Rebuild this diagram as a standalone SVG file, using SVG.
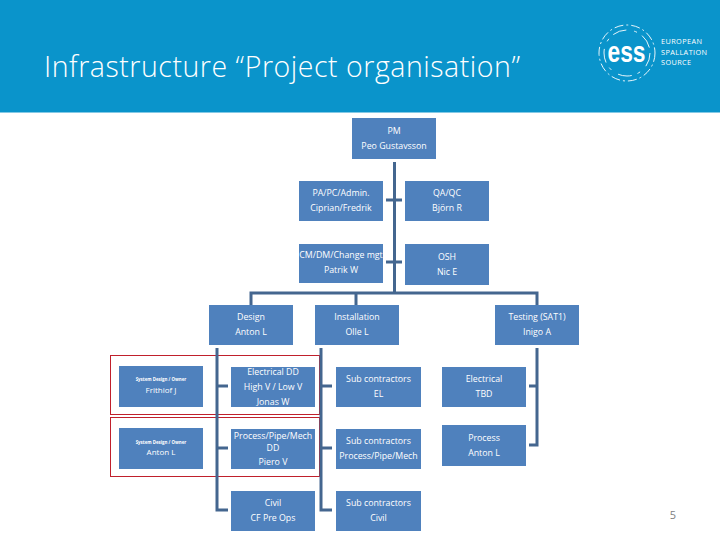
<svg xmlns="http://www.w3.org/2000/svg" width="720" height="540" viewBox="0 0 720 540">
<style>
.n{fill:#4f81bd}
.t{font:8.8px "Open Sans","DejaVu Sans",sans-serif;fill:#fff;text-anchor:middle}
.s{font:bold 4.4px "Open Sans",sans-serif;fill:#fff;text-anchor:middle}
.c{stroke:#44668f;stroke-width:3;fill:none}
.r{fill:none;stroke:#c0202c;stroke-width:1}
.l{font:7.3px "Open Sans",sans-serif;fill:#fff;letter-spacing:.4px}
.d{fill:none;stroke:#fff;stroke-width:.9}
</style>
<rect id="header" width="720" height="112.500" fill="#0a94cb"/>
<text id="title" x="44" y="77" font-family="Open Sans, sans-serif" font-weight="300" font-size="28.500" textLength="476" fill="#fff">Infrastructure “Project organisation”</text>
<g id="logo">
<circle class="d" cx="627" cy="53" r="28" stroke-dasharray="9 3 2 3"/>
<circle class="d" cx="627" cy="53" r="23" stroke-dasharray="14 8 3 6"/>
<text x="626.500" y="62" font-family="Liberation Sans, sans-serif" font-weight="bold" font-size="30" fill="#fff" text-anchor="middle" textLength="38" lengthAdjust="spacingAndGlyphs">ess</text>
<text class="l" x="661" y="44">EUROPEAN</text>
<text class="l" x="661" y="55">SPALLATION</text>
<text class="l" x="661" y="65">SOURCE</text>
</g>
<g id="highlights"><rect class="r" x="110.500" y="355.500" width="209" height="59"/><rect class="r" x="110.500" y="417.500" width="209" height="59"/></g>
<g id="connectors">
<path class="c" d="M394.500 162V292M386 200H402M386 262H402M251 310V293H537V310"/>
<path class="c" d="M356 292V305"/>
<path class="c" d="M217 348V510H228M217 386H228M217 448H228"/>
<path class="c" d="M321 348V510H332M321 386H332M321 448H332"/>
<path class="c" d="M537 348V445H529M537 386H529"/>
</g>
<g id="pm"><rect class="n" x="352" y="118" width="84" height="41"/><text class="t" x="394" y="134">PM</text><text class="t" x="394" y="149">Peo Gustavsson</text></g>
<g id="pa"><rect class="n" x="299" y="181" width="84" height="40"/><text class="t" x="341" y="196">PA/PC/Admin.</text><text class="t" x="341" y="211">Ciprian/Fredrik</text></g>
<g id="qa"><rect class="n" x="405" y="181" width="84" height="40"/><text class="t" x="447" y="196">QA/QC</text><text class="t" x="447" y="211">Björn R</text></g>
<g id="cm"><rect class="n" x="299" y="244" width="84" height="39"/><text class="t" x="341" y="258">CM/DM/Change mgt</text><text class="t" x="341" y="273">Patrik W</text></g>
<g id="osh"><rect class="n" x="405" y="244" width="84" height="41"/><text class="t" x="447" y="260">OSH</text><text class="t" x="447" y="275">Nic E</text></g>
<g id="design"><rect class="n" x="209" y="305" width="84" height="40"/><text class="t" x="251" y="320">Design</text><text class="t" x="251" y="335">Anton L</text></g>
<g id="installation"><rect class="n" x="315" y="305" width="84" height="40"/><text class="t" x="357" y="320">Installation</text><text class="t" x="357" y="335">Olle L</text></g>
<g id="testing"><rect class="n" x="495" y="305" width="84" height="40"/><text class="t" x="537" y="320">Testing (SAT1)</text><text class="t" x="537" y="335">Inigo A</text></g>
<g id="owner1"><rect class="n" x="119" y="366" width="84" height="41"/><text class="s" x="161" y="381">System Design / Owner</text><text class="t" x="161" y="393" style="font-size:8px">Frithiof J</text></g>
<g id="owner2"><rect class="n" x="119" y="428" width="84" height="41"/><text class="s" x="161" y="444">System Design / Owner</text><text class="t" x="161" y="455" style="font-size:8px">Anton L</text></g>
<g id="elecdd"><rect class="n" x="231" y="367" width="84" height="40"/><text class="t" x="273" y="375">Electrical DD</text><text class="t" x="273" y="390">High V / Low V</text><text class="t" x="273" y="405">Jonas W</text></g>
<g id="procdd"><rect class="n" x="231" y="429" width="84" height="40"/><text class="t" x="273" y="438.500">Process/Pipe/Mech</text><text class="t" x="273" y="450.500">DD</text><text class="t" x="273" y="465">Piero V</text></g>
<g id="civil"><rect class="n" x="231" y="491" width="84" height="40"/><text class="t" x="273" y="506">Civil</text><text class="t" x="273" y="521">CF Pre Ops</text></g>
<g id="subel"><rect class="n" x="336" y="367" width="85" height="40"/><text class="t" x="378.500" y="382">Sub contractors</text><text class="t" x="378.500" y="397">EL</text></g>
<g id="subproc"><rect class="n" x="336" y="429" width="85" height="40"/><text class="t" x="378.500" y="444">Sub contractors</text><text class="t" x="378.500" y="459">Process/Pipe/Mech</text></g>
<g id="subcivil"><rect class="n" x="336" y="491" width="85" height="40"/><text class="t" x="378.500" y="506">Sub contractors</text><text class="t" x="378.500" y="521">Civil</text></g>
<g id="electrical"><rect class="n" x="442" y="367" width="84" height="40"/><text class="t" x="484" y="382">Electrical</text><text class="t" x="484" y="397">TBD</text></g>
<g id="process"><rect class="n" x="442" y="425" width="84" height="41"/><text class="t" x="484" y="441">Process</text><text class="t" x="484" y="456">Anton L</text></g>
<text id="page" x="673" y="519" font-family="Open Sans, sans-serif" font-size="11" fill="#7f7f7f" text-anchor="middle">5</text>
</svg>
